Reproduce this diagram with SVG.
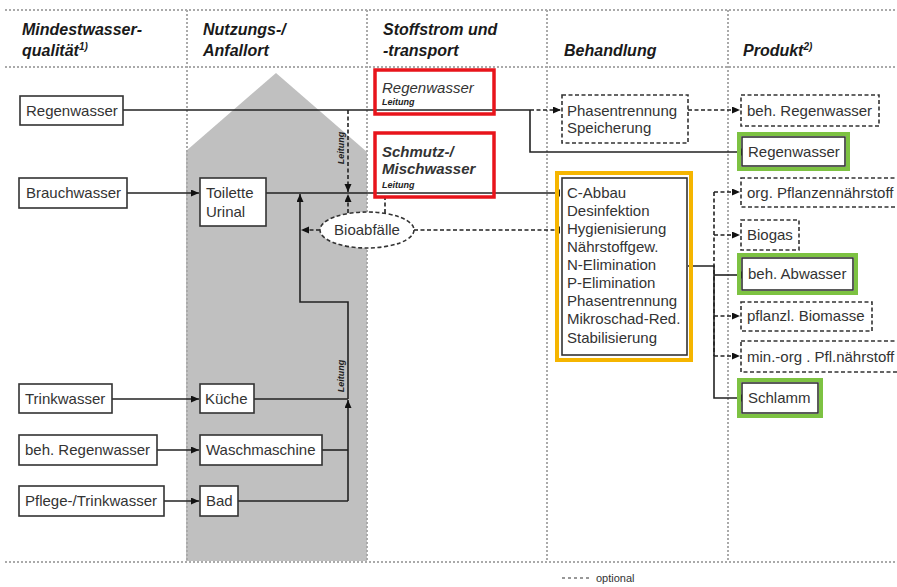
<svg xmlns="http://www.w3.org/2000/svg" width="897" height="587" viewBox="0 0 897 587">
<defs>
<style>
text{font-family:"Liberation Sans",Arial,sans-serif;fill:#333}
.h{font-size:16px;font-weight:bold;font-style:italic;fill:#1a1a1a}
.t{font-size:15px}
.box{fill:#fff;stroke:#333;stroke-width:1.6}
.dbox{fill:#fff;stroke:#333;stroke-width:1.6;stroke-dasharray:4,2.5}
.grid{stroke:#aaa;stroke-width:2;stroke-dasharray:2,2;fill:none}
.red{fill:none;stroke:#e8141b;stroke-width:3.5}
.green{fill:none;stroke:#7dc242;stroke-width:4}
.orange{fill:none;stroke:#f5b500;stroke-width:4}
.ln{fill:none;stroke:#222;stroke-width:1.6}
.dl{fill:none;stroke:#222;stroke-width:1.6;stroke-dasharray:4,2.5}
.lt{font-size:9px;font-weight:bold;font-style:italic;fill:#222}
</style>
<marker id="arr" markerWidth="9" markerHeight="8" refX="8" refY="3.5" orient="auto" markerUnits="userSpaceOnUse">
<path d="M0,0 L8,3.5 L0,7 z" fill="#111"/>
</marker>
<marker id="tick" markerWidth="4" markerHeight="8" refX="2" refY="4" orient="auto" markerUnits="userSpaceOnUse">
<rect x="1" y="0.5" width="2" height="7" fill="#222"/>
</marker>
</defs>
<rect width="897" height="587" fill="#fff"/>
<polygon points="186,151 276,73 367,152 367,561 186,561" fill="#c0c0c0"/>
<g id="grid">
<line class="grid" x1="5" y1="10" x2="897" y2="10"/>
<line class="grid" x1="5" y1="67" x2="897" y2="67"/>
<line class="grid" x1="5" y1="562" x2="897" y2="562"/>
<line class="grid" x1="187" y1="10" x2="187" y2="562"/>
<line class="grid" x1="367" y1="10" x2="367" y2="562"/>
<line class="grid" x1="547" y1="10" x2="547" y2="562"/>
<line class="grid" x1="728" y1="10" x2="728" y2="562"/>
</g>
<g id="headers">
<text class="h" x="22" y="35">Mindestwasser-</text>
<text class="h" x="22" y="56">qualität<tspan font-size="10" dy="-6">1)</tspan></text>
<text class="h" x="203" y="35">Nutzungs-/</text>
<text class="h" x="203" y="56">Anfallort</text>
<text class="h" x="383" y="35">Stoffstrom und</text>
<text class="h" x="383" y="56">-transport</text>
<text class="h" x="564" y="56">Behandlung</text>
<text class="h" x="743" y="56">Produkt<tspan font-size="10" dy="-6">2)</tspan></text>
</g>
<g id="connectors">
<path class="ln" d="M123,110 H530"/>
<path class="dl" d="M530,110 H561" marker-end="url(#arr)"/>
<path class="ln" d="M530,110 V152 H741" marker-end="url(#tick)"/>
<path class="dl" d="M688,110 H740" marker-end="url(#arr)"/>
<path class="dl" d="M348,110 V192" marker-end="url(#arr)"/>
<path class="dl" d="M348,213 V194" marker-end="url(#arr)"/>
<path class="dl" d="M385,213 V195"/>
<path class="ln" d="M127,193 H199" marker-end="url(#arr)"/>
<path class="ln" d="M266,193 H559" marker-end="url(#tick)"/>
<path class="ln" d="M348,501 V400" marker-end="url(#arr)"/>
<path class="ln" d="M348,399 V302 H300 V194" marker-end="url(#arr)"/>
<path class="dl" d="M320,230 H301" marker-end="url(#arr)"/>
<path class="dl" d="M414,230 H559" marker-end="url(#tick)"/>
<path class="ln" d="M112,399 H199" marker-end="url(#arr)"/>
<path class="ln" d="M254,399 H348"/>
<path class="ln" d="M157,450 H199" marker-end="url(#arr)"/>
<path class="ln" d="M322,450 H348"/>
<path class="ln" d="M164,501 H199" marker-end="url(#arr)"/>
<path class="ln" d="M238,501 H348"/>
<path class="dl" d="M714,192 V356"/>
<path class="dl" d="M714,192 H740" marker-end="url(#arr)"/>
<path class="dl" d="M714,235 H740" marker-end="url(#arr)"/>
<path class="dl" d="M714,316 H740" marker-end="url(#arr)"/>
<path class="dl" d="M714,356 H740" marker-end="url(#arr)"/>
<path class="ln" d="M688,266 H714 V398 H741" marker-end="url(#tick)"/>
<path class="ln" d="M714,275 H741" marker-end="url(#tick)"/>
<text class="lt" transform="translate(344,148) rotate(-90)" text-anchor="middle">Leitung</text>
<text class="lt" transform="translate(344,376) rotate(-90)" text-anchor="middle">Leitung</text>
</g>
<g id="n-regenwasser-q"><rect class="box" x="20" y="96" width="103" height="29"/><text class="t" x="26" y="116">Regenwasser</text></g>
<g id="n-brauchwasser"><rect class="box" x="19" y="178" width="108" height="30"/><text class="t" x="26" y="198">Brauchwasser</text></g>
<g id="n-trinkwasser"><rect class="box" x="19" y="384" width="93" height="29"/><text class="t" x="25" y="404">Trinkwasser</text></g>
<g id="n-behregen-q"><rect class="box" x="19" y="435" width="138" height="30"/><text class="t" x="25" y="455">beh. Regenwasser</text></g>
<g id="n-pflege"><rect class="box" x="19" y="486" width="145" height="30"/><text class="t" x="25" y="506">Pflege-/Trinkwasser</text></g>
<g id="n-toilette"><rect class="box" x="200" y="178" width="66" height="48"/><text class="t" x="206" y="198">Toilette</text><text class="t" x="206" y="217">Urinal</text></g>
<g id="n-kueche"><rect class="box" x="200" y="384" width="54" height="29"/><text class="t" x="205" y="404">Küche</text></g>
<g id="n-waschmaschine"><rect class="box" x="200" y="435" width="122" height="30"/><text class="t" x="206" y="455">Waschmaschine</text></g>
<g id="n-bad"><rect class="box" x="200" y="486" width="38" height="30"/><text class="t" x="206" y="506">Bad</text></g>
<g id="n-bioabfaelle"><ellipse cx="367" cy="230" rx="47" ry="18" fill="#fff" stroke="#333" stroke-width="1.6" stroke-dasharray="4,2.5"/><text class="t" x="367" y="235" text-anchor="middle">Bioabfälle</text></g>
<g id="n-regenwasser-s"><rect class="red" x="375" y="70" width="119" height="44"/><text class="t" x="382" y="93" font-style="italic">Regenwasser</text><text class="lt" x="382" y="105">Leitung</text></g>
<g id="n-schmutz"><rect class="red" x="375" y="133" width="119" height="64"/><text x="382" y="157" font-size="15" font-weight="bold" font-style="italic" fill="#1a1a1a">Schmutz-/</text><text x="382" y="174" font-size="15" font-weight="bold" font-style="italic" fill="#1a1a1a">Mischwasser</text><text class="lt" x="382" y="188">Leitung</text></g>
<g id="n-phasentrennung"><rect class="dbox" x="562" y="95" width="126" height="48"/><text class="t" x="567" y="116">Phasentrennung</text><text class="t" x="567" y="133">Speicherung</text></g>
<g id="n-behandlung"><rect class="orange" x="557" y="173" width="134" height="187"/><rect class="box" x="562" y="178" width="125" height="177"/>
<text class="t" x="567" y="198">C-Abbau</text><text class="t" x="567" y="216">Desinfektion</text><text class="t" x="567" y="234">Hygienisierung</text><text class="t" x="567" y="252">Nährstoffgew.</text><text class="t" x="567" y="270">N-Elimination</text><text class="t" x="567" y="288">P-Elimination</text><text class="t" x="567" y="306">Phasentrennung</text><text class="t" x="567" y="324">Mikroschad-Red.</text><text class="t" x="567" y="343">Stabilisierung</text></g>
<g id="p-behregen"><rect class="dbox" x="741" y="95" width="138" height="31"/><text class="t" x="747" y="116">beh. Regenwasser</text></g>
<g id="p-regenwasser"><rect class="green" x="739" y="134" width="109" height="35"/><rect class="box" x="742" y="137" width="103" height="29"/><text class="t" x="748" y="157">Regenwasser</text></g>
<g id="p-orgpfl"><rect class="dbox" x="741" y="178" width="160" height="29"/><text class="t" x="747" y="198">org. Pflanzennährstoff</text></g>
<g id="p-biogas"><rect class="dbox" x="741" y="220" width="58" height="30"/><text class="t" x="747" y="240">Biogas</text></g>
<g id="p-behabwasser"><rect class="green" x="739" y="255" width="117" height="38"/><rect class="box" x="742" y="258" width="111" height="32"/><text class="t" x="748" y="279">beh. Abwasser</text></g>
<g id="p-biomasse"><rect class="dbox" x="741" y="302" width="131" height="29"/><text class="t" x="747" y="321">pflanzl. Biomasse</text></g>
<g id="p-minorg"><rect class="dbox" x="741" y="341" width="160" height="31"/><text class="t" x="747" y="362">min.-org . Pfl.nährstoff</text></g>
<g id="p-schlamm"><rect class="green" x="739" y="380" width="82" height="36"/><rect class="box" x="742" y="383" width="76" height="30"/><text class="t" x="748" y="403">Schlamm</text></g>
<g id="legend"><line x1="562" y1="578" x2="590" y2="578" stroke="#333" stroke-width="1.2" stroke-dasharray="3,3"/><text x="596" y="582" font-size="11">optional</text></g>
</svg>
